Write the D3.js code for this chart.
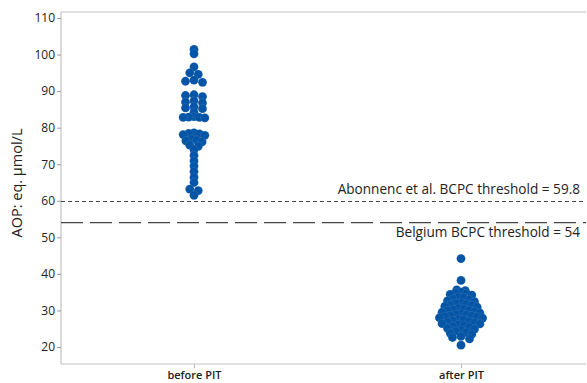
<!DOCTYPE html>
<html>
<head>
<meta charset="utf-8">
<script src="https://cdn.jsdelivr.net/npm/d3@7"></script>
<style>
  html, body { margin: 0; padding: 0; background: #fff; }
  svg { display: block; font-family: "Open Sans", "Noto Sans", sans-serif; }
</style>
</head>
<body>
<svg id="chart" width="587" height="383"></svg>
<script>
// Groups on the x axis
const categories = ["before PIT", "after PIT"];

// AOP measurements (eq. µmol/L) per group
const beforeValues = [
  101.4, 100.2,
  96.6,
  95.0, 94.6,
  93.0, 92.7, 92.4,
  89.0, 88.8, 88.5,
  87.3, 87.0, 86.8,
  85.7, 85.4, 85.2,
  84.2,
  83.0, 82.9, 82.8, 82.8, 82.7,
  78.6, 78.4, 78.3, 78.1, 77.9,
  76.9, 76.6, 76.4, 76.1,
  75.2, 74.9,
  74.0, 72.4, 70.9, 69.5, 68.0, 66.4, 65.0,
  63.2, 62.8,
  61.5
];
const afterValues = [
  44.2, 38.2,
  35.6, 35.4,
  35.0, 34.8, 34.6, 34.4, 34.2,
  33.6, 33.4, 33.1, 32.9, 32.6, 32.4,
  32.1, 31.9, 31.7, 31.5, 31.3, 31.1, 30.9,
  30.6, 30.4, 30.2, 30.0, 29.9, 29.7, 29.5, 29.3,
  29.1, 28.9, 28.8, 28.6, 28.5, 28.3, 28.2, 28.0, 27.9,
  27.6, 27.4, 27.2, 27.0, 26.8, 26.6, 26.4, 26.3,
  26.1, 25.9, 25.6, 25.4, 25.1, 24.9,
  24.6, 24.3, 24.0, 23.8, 23.5,
  22.9, 22.6, 22.2,
  20.5
];

// Y axis ticks
const yTicks = [20, 30, 40, 50, 60, 70, 80, 90, 100, 110];

// Reference thresholds
const thresholdLabels = ["Abonnenc et al. BCPC threshold = 59.8", "Belgium BCPC threshold = 54"];
const thresholdValues = [59.8, 54];

const svg = d3.select("#chart");
const frame = { left: 61, top: 12, right: 586, bottom: 364 };

const y = d3.scaleLinear().domain([20, 110]).range([347, 18]);
const x = d3.scalePoint().domain(categories).range([60.5, 594.5]).padding(0.5);

const dotColor = "#0455a6";
const dotR = 4.4;
const binWidth = 1.5;   // value units grouped into one row

// Frame
svg.append("path")
  .attr("d", `M${frame.right},${frame.top}H${frame.left}V${frame.bottom}H${frame.right}`)
  .attr("fill", "none")
  .attr("stroke", "#c4c4c4")
  .attr("stroke-width", 1.2);

// Y axis
const yAxis = svg.append("g")
  .attr("transform", `translate(${frame.left},0)`)
  .call(d3.axisLeft(y).tickValues(yTicks).tickSize(4).tickPadding(2));
yAxis.select(".domain").remove();
yAxis.selectAll(".tick line").attr("stroke", "#9a9a9a");
yAxis.selectAll(".tick text")
  .attr("fill", "#222")
  .style("font-size", "12px")
  .style("font-family", "'Open Sans', 'Noto Sans', sans-serif");

// X axis
const xAxis = svg.append("g")
  .attr("transform", `translate(0,${frame.bottom})`)
  .call(d3.axisBottom(x).tickSize(4).tickPadding(3));
xAxis.select(".domain").remove();
xAxis.selectAll(".tick line").attr("stroke", "#bbb");
xAxis.selectAll(".tick text")
  .attr("fill", "#222")
  .style("font-size", "11px")
  .style("font-weight", "600")
  .style("font-family", "'Open Sans', 'Noto Sans', sans-serif");

// Y axis title
svg.append("text")
  .attr("transform", `translate(22,183) rotate(-90)`)
  .attr("text-anchor", "middle")
  .attr("fill", "#222")
  .style("font-size", "14.5px")
  .text("AOP: eq. µmol/L");

// Threshold lines and their labels
const dashes = ["4,3", "22,7"];
thresholdValues.forEach((v, i) => {
  svg.append("line")
    .attr("x1", frame.left).attr("x2", frame.right)
    .attr("y1", y(v)).attr("y2", y(v))
    .attr("stroke", "#444")
    .attr("stroke-width", 1.2)
    .attr("stroke-dasharray", dashes[i]);
});
svg.append("text")
  .attr("x", 580).attr("y", y(thresholdValues[0]) - 8)
  .attr("text-anchor", "end").attr("fill", "#222")
  .style("font-size", "13.6px")
  .text(thresholdLabels[0]);
svg.append("text")
  .attr("x", 580).attr("y", y(thresholdValues[1]) + 14)
  .attr("text-anchor", "end").attr("fill", "#222")
  .style("font-size", "13.6px")
  .text(thresholdLabels[1]);

// Dot-plot layout: values sharing a bin sit side by side, centred on the group
function arrange(values, cx) {
  const bins = d3.group(values, v => Math.round(v / binWidth));
  const out = [];
  bins.forEach(vals => {
    const n = vals.length;
    const step = n <= 3 ? 8.5 : 5.4;
    const slots = d3.range(n).map(i => (i - (n - 1) / 2) * step)
      .sort((a, b) => Math.abs(a) - Math.abs(b) || a - b);
    vals.slice().sort(d3.descending).forEach((v, i) => {
      out.push({ value: v, cx: cx + slots[i], cy: y(v) });
    });
  });
  return out;
}

const groups = [
  { cat: categories[0], values: beforeValues },
  { cat: categories[1], values: afterValues }
];

groups.forEach(g => {
  svg.append("g").selectAll("circle")
    .data(arrange(g.values, x(g.cat)))
    .join("circle")
    .attr("cx", d => d.cx)
    .attr("cy", d => d.cy)
    .attr("r", dotR)
    .attr("fill", dotColor)
    .attr("stroke", "#ffffff")
    .attr("stroke-opacity", 0.18)
    .attr("stroke-width", 0.5);
});
</script>
</body>
</html>
